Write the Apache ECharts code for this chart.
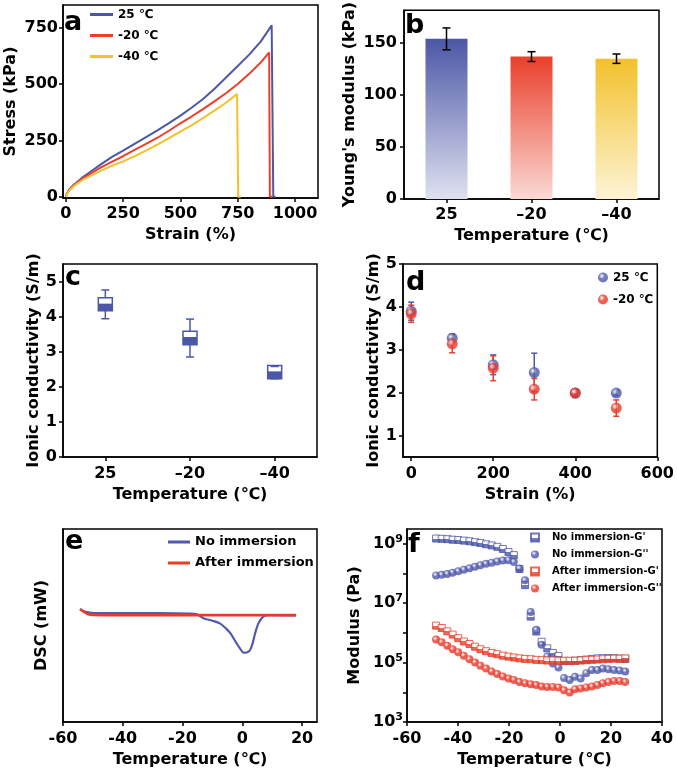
<!DOCTYPE html>
<html>
<head>
<meta charset="utf-8">
<script src="https://cdn.jsdelivr.net/npm/echarts@6/dist/echarts.min.js"></script>
<style>
  html, body { margin: 0; padding: 0; background: #fff; }
  #chart { width: 677px; height: 771px; }
</style>
</head>
<body>
<div id="chart"></div>
<script>
var FONT = '"DejaVu Sans", "Noto Sans CJK SC", sans-serif';
var BLUE = '#4c57a8', RED = '#e9402b', YELLOW = '#f4c12c';

// a - stress / strain
var strain25 = [0, 5, 10, 20, 30, 40, 50, 75, 100, 150, 200, 250, 300, 350, 400, 450, 500, 550, 600, 650, 700, 750, 800, 850, 898, 905, 915];
var stress25 = [0, 14, 24, 38, 49, 58, 66, 88, 106, 142, 176, 205, 235, 265, 295, 327, 360, 396, 435, 480, 530, 580, 630, 688, 760, 0, 0];
var strainM20 = [0, 5, 10, 20, 30, 40, 50, 75, 100, 150, 200, 250, 300, 350, 400, 450, 500, 550, 600, 650, 700, 750, 800, 850, 887, 890, 900];
var stressM20 = [0, 13, 22, 35, 46, 55, 63, 82, 98, 128, 155, 180, 208, 235, 262, 293, 326, 357, 390, 424, 460, 500, 545, 595, 640, 0, 0];
var strainM40 = [0, 5, 10, 20, 30, 40, 50, 75, 100, 150, 200, 250, 300, 350, 400, 450, 500, 550, 600, 650, 700, 747, 752, 763];
var stressM40 = [0, 12, 21, 33, 43, 52, 59, 76, 89, 114, 137, 157, 180, 205, 232, 260, 289, 318, 350, 383, 418, 455, 0, 0];

// b - Young's modulus
var tempCats = ['25', '\u201320', '\u201340'];
var youngVal = [153.5, 136.5, 134.5];
var youngErr = [10.5, 4.7, 4.5];
var barTop = ['#4c57a6', '#e9402b', '#f3c12c'];
var barBottom = ['#dfe1f0', '#fbd9d4', '#fdf4d6'];

// c - box plot of ionic conductivity
var boxMin = [3.94, 2.85, 2.23];
var boxQ1 = [4.17, 3.20, 2.23];
var boxMid = [4.37, 3.42, 2.44];
var boxQ3 = [4.54, 3.58, 2.61];
var boxMax = [4.76, 3.93, 2.58];

// d - conductivity vs strain
var dStrain = [0, 100, 200, 300, 400, 500];
var d25 = [3.90, 3.27, 2.65, 2.47, 1.99, 1.99];
var d25Err = [0.21, 0.10, 0.23, 0.45, 0.10, 0.06];
var dM20 = [3.84, 3.14, 2.57, 2.08, 1.99, 1.64];
var dM20Err = [0.20, 0.21, 0.29, 0.25, 0.08, 0.19];

// e - DSC
var eTempNo = [-54.3, -53, -51.5, -50, -30, -18, -15.2, -13, -10, -7.5, -5.5, -4, -2, -0.5, 0.4, 1.5, 2.6, 3.5, 4.3, 5.4, 7, 8.7, 18];
var eDscNo = [5.85, 5.74, 5.68, 5.65, 5.64, 5.62, 5.58, 5.38, 5.25, 5.11, 4.85, 4.60, 4.10, 3.75, 3.59, 3.60, 3.73, 4.10, 4.60, 5.11, 5.46, 5.54, 5.52];
var eTempAfter = [-54.3, -53, -51.5, -50, -40, 0, 18];
var eDscAfter = [5.85, 5.70, 5.58, 5.55, 5.54, 5.54, 5.54];

// f - modulus vs temperature
var fTemp = [-48.6, -46.4, -44.2, -42.1, -39.9, -37.7, -35.5, -33.3, -31.2, -29.0, -26.8, -24.6, -22.4, -20.2, -18.1, -15.9, -13.7, -11.5,
  -9.3, -7.2, -5.0, -2.8, -0.6, 1.6, 3.8, 5.9, 8.1, 10.3, 12.5, 14.7, 16.8, 19.0, 21.2, 23.4, 25.6];
var fNoGp = [1.48e9, 1.45e9, 1.41e9, 1.35e9, 1.32e9, 1.26e9, 1.2e9, 1.12e9, 1.05e9, 9.5e8, 8.7e8, 7.8e8, 6.6e8, 5.2e8, 4.1e8, 1.4e8, 4e7, 3.5e6,
  1.1e6, 5e5, 3e5, 2.1e5, 1.66e5, 1.12e5, 1.12e5, 1.15e5, 1.2e5, 1.26e5, 1.32e5, 1.38e5, 1.41e5, 1.41e5, 1.41e5, 1.35e5, 1.32e5];
var fNoGpp = [8.5e7, 8.9e7, 9.5e7, 1.05e8, 1.17e8, 1.32e8, 1.48e8, 1.66e8, 1.86e8, 2.09e8, 2.29e8, 2.5e8, 2.7e8, 2.75e8, 2.4e8, 1.45e8, 5.8e7, 5e6,
  1.26e6, 4e5, 1.6e5, 9.3e4, 6.8e4, 3.0e4, 2.6e4, 3.3e4, 2.9e4, 4.4e4, 5.6e4, 5.6e4, 6.3e4, 5.9e4, 5.6e4, 5.4e4, 5.0e4];
var fAfGp = [1.74e6, 1.45e6, 1.12e6, 8.7e5, 6.6e5, 5.1e5, 4.2e5, 3.4e5, 2.8e5, 2.4e5, 2.1e5, 1.9e5, 1.7e5, 1.58e5, 1.48e5, 1.38e5, 1.32e5, 1.29e5,
  1.23e5, 1.2e5, 1.17e5, 1.17e5, 1.15e5, 1.15e5, 1.15e5, 1.15e5, 1.17e5, 1.2e5, 1.23e5, 1.26e5, 1.29e5, 1.32e5, 1.35e5, 1.35e5, 1.38e5];
var fAfGpp = [5.9e5, 4.8e5, 3.7e5, 2.8e5, 2.2e5, 1.7e5, 1.29e5, 1.0e5, 7.8e4, 6.3e4, 5.0e4, 4.1e4, 3.4e4, 2.9e4, 2.6e4, 2.2e4, 2.0e4, 1.86e4,
  1.74e4, 1.55e4, 1.51e4, 1.51e4, 1.45e4, 1.17e4, 9.8e3, 1.26e4, 1.35e4, 1.45e4, 1.55e4, 1.74e4, 2.0e4, 2.2e4, 2.4e4, 2.4e4, 2.2e4];

function zip(xs, ys) {
  return xs.map(function (x, i) { return [x, ys[i]]; });
}

function plain(v) { return String(v); }

function mkAxis(o) {
  return {
    type: o.type || 'value',
    gridIndex: o.grid,
    min: o.min, max: o.max, data: o.data,
    name: o.name, nameLocation: 'middle', nameGap: o.nameGap,
    nameTextStyle: { color: '#000', fontSize: 16, fontWeight: 'bold', fontFamily: FONT },
    axisLine: { show: true, onZero: false, lineStyle: { color: '#000', width: 1.5 } },
    axisTick: { show: o.ticks !== false, length: 4, alignWithLabel: true, customValues: o.ticksAt,
      lineStyle: { color: '#000', width: 1.5 } },
    axisLabel: { show: o.labels !== false, color: '#000', fontSize: 16, fontWeight: 'bold', fontFamily: FONT,
      margin: o.margin || 6, customValues: o.labelsAt, formatter: o.formatter || (o.type ? undefined : plain), rich: o.rich },
    splitLine: { show: false }
  };
}

function grid(l, t, w, h) {
  return { left: l, top: t, width: w, height: h, show: true, borderColor: '#000', borderWidth: 1.5 };
}

function ln(x1, y1, x2, y2, color) {
  return { type: 'line', shape: { x1: x1, y1: y1, x2: x2, y2: y2 }, style: { stroke: color, lineWidth: 1.5 } };
}

function errorBars(color, cap) {
  return function (params, api) {
    var x = api.value(0), v = api.value(1), e = api.value(2);
    var t = api.coord([x, v + e]), b = api.coord([x, v - e]);
    return { type: 'group', children: [
      ln(t[0], t[1], b[0], b[1], color),
      ln(t[0] - cap, t[1], t[0] + cap, t[1], color),
      ln(b[0] - cap, b[1], b[0] + cap, b[1], color)
    ] };
  };
}

function sphere(c) {
  return { type: 'radial', x: 0.38, y: 0.35, r: 0.65,
    colorStops: [{ offset: 0, color: '#ffffff' }, { offset: 0.45, color: c }, { offset: 1, color: c }] };
}

function halfSquare(c) {
  return { type: 'linear', x: 0, y: 0, x2: 0, y2: 1,
    colorStops: [{ offset: 0, color: '#fff' }, { offset: 0.5, color: '#fff' }, { offset: 0.5, color: c }, { offset: 1, color: c }] };
}

var legendText = function (size, pad) {
  return { color: '#000', fontSize: size, fontWeight: 'bold', fontFamily: FONT, lineHeight: size + 1, padding: [0, 0, 0, pad || 0] };
};

var chart = echarts.init(document.getElementById('chart'));

var option = {
  animation: false,
  backgroundColor: '#fff',
  grid: [
    grid(63, 5, 255, 193),
    grid(404, 5, 255, 194),
    grid(63, 264, 254, 193),
    grid(403, 264, 255, 193),
    grid(63, 529, 254, 193),
    grid(407, 529, 255, 193)
  ],
  xAxis: [
    mkAxis({ grid: 0, min: -12, max: 1100, name: 'Strain (%)', nameGap: 29, margin: 8,
      ticksAt: [0, 250, 500, 750, 1000], labelsAt: [0, 250, 500, 750, 1000] }),
    mkAxis({ grid: 1, type: 'category', data: tempCats, name: 'Temperature (\u2103)', nameGap: 29, margin: 8 }),
    mkAxis({ grid: 2, type: 'category', data: tempCats, name: 'Temperature (\u2103)', nameGap: 30, margin: 9 }),
    mkAxis({ grid: 3, min: -20, max: 600, name: 'Strain (%)', nameGap: 30, margin: 9,
      ticksAt: [0, 200, 400, 600], labelsAt: [0, 200, 400, 600] }),
    mkAxis({ grid: 4, min: -60, max: 25, name: 'Temperature (\u2103)', nameGap: 30, margin: 9,
      ticksAt: [-60, -40, -20, 0, 20], labelsAt: [-60, -40, -20, 0, 20] }),
    mkAxis({ grid: 5, min: -60, max: 40, name: 'Temperature (\u2103)', nameGap: 30, margin: 9,
      ticksAt: [-60, -40, -20, 0, 20, 40], labelsAt: [-60, -40, -20, 0, 20, 40] })
  ],
  yAxis: [
    mkAxis({ grid: 0, min: -5, max: 850, name: 'Stress (kPa)', nameGap: 44, margin: 5,
      ticksAt: [0, 250, 500, 750], labelsAt: [0, 250, 500, 750] }),
    mkAxis({ grid: 1, min: 0, max: 181, name: "Young's modulus (kPa)", nameGap: 46, margin: 7,
      ticksAt: [0, 50, 100, 150], labelsAt: [0, 50, 100, 150] }),
    mkAxis({ grid: 2, min: 0, max: 5.5, name: 'Ionic conductivity (S/m)', nameGap: 21, margin: 6,
      ticksAt: [0, 1, 2, 3, 4, 5], labelsAt: [0, 1, 2, 3, 4, 5] }),
    mkAxis({ grid: 3, min: 0.5, max: 5, name: 'Ionic conductivity (S/m)', nameGap: 20, margin: 6,
      ticksAt: [1, 2, 3, 4, 5], labelsAt: [1, 2, 3, 4, 5] }),
    mkAxis({ grid: 4, min: 0, max: 10, name: 'DSC (mW)', nameGap: 13, ticks: false, labels: false }),
    mkAxis({ grid: 5, type: 'log', min: 1000, max: 3.1e9, name: 'Modulus (Pa)', nameGap: 44, margin: 4,
      ticksAt: [1e3, 1e4, 1e5, 1e6, 1e7, 1e8, 1e9], labelsAt: [1e3, 1e5, 1e7, 1e9],
      formatter: function (v) { return '{b|10}{s|' + Math.round(Math.log10(v)) + '}'; },
      rich: {
        b: { fontSize: 16, fontWeight: 'bold', fontFamily: FONT, color: '#000', lineHeight: 20 },
        s: { fontSize: 11, fontWeight: 'bold', fontFamily: FONT, color: '#000', verticalAlign: 'top', lineHeight: 12 }
      } })
  ],
  legend: [
    { left: 90, top: 8, padding: 0, orient: 'vertical', itemWidth: 23, itemHeight: 3, itemGap: 8, icon: 'rect', selectedMode: false,
      data: ['25 \u2103', '-20 \u2103', '-40 \u2103'], textStyle: legendText(12) },
    { left: 598, top: 271, padding: 0, orient: 'vertical', itemWidth: 10, itemHeight: 10, itemGap: 9, selectedMode: false,
      data: ['25 \u2103\u200b', '-20 \u2103\u200b'], textStyle: legendText(12) },
    { left: 168, top: 535, padding: 0, orient: 'vertical', itemWidth: 22, itemHeight: 3, itemGap: 7, icon: 'rect', selectedMode: false,
      data: ['No immersion', 'After immersion'], textStyle: legendText(13) },
    { left: 530, top: 532, padding: 0, orient: 'vertical', itemWidth: 8, itemHeight: 8, itemGap: 6, selectedMode: false,
      data: ["No immersion-G'", "No immersion-G''", "After immersion-G'", "After immersion-G''"], textStyle: legendText(10, 8) }
  ],
  graphic: [
    ['a', 64, 36], ['b', 405, 39], ['c', 65, 291], ['d', 406, 296], ['e', 65, 555], ['f', 408, 558]
  ].map(function (p) {
    return { type: 'text', x: p[1], y: p[2], z: 100,
      style: { text: p[0], fill: '#000', font: 'bold 27px ' + FONT, verticalAlign: 'bottom' } };
  }),
  series: [
    // a
    { type: 'line', name: '25 \u2103', xAxisIndex: 0, yAxisIndex: 0, data: zip(strain25, stress25), showSymbol: false,
      lineStyle: { width: 2, color: BLUE }, itemStyle: { color: BLUE } },
    { type: 'line', name: '-20 \u2103', xAxisIndex: 0, yAxisIndex: 0, data: zip(strainM20, stressM20), showSymbol: false,
      lineStyle: { width: 2, color: RED }, itemStyle: { color: RED } },
    { type: 'line', name: '-40 \u2103', xAxisIndex: 0, yAxisIndex: 0, data: zip(strainM40, stressM40), showSymbol: false,
      lineStyle: { width: 2, color: YELLOW }, itemStyle: { color: YELLOW } },
    // b
    { type: 'bar', xAxisIndex: 1, yAxisIndex: 1, barWidth: 42,
      data: youngVal.map(function (v, i) {
        return { value: v, itemStyle: { color: { type: 'linear', x: 0, y: 0, x2: 0, y2: 1,
          colorStops: [{ offset: 0, color: barTop[i] }, { offset: 1, color: barBottom[i] }] } } };
      }) },
    { type: 'custom', xAxisIndex: 1, yAxisIndex: 1, encode: { x: 0, y: 1 }, z: 5,
      renderItem: errorBars('#000', 4),
      data: youngVal.map(function (v, i) { return [i, v, youngErr[i]]; }) },
    // c
    { type: 'custom', xAxisIndex: 2, yAxisIndex: 2, encode: { x: 0, y: [1, 2, 3, 4, 5] },
      renderItem: function (params, api) {
        var i = api.value(0);
        var pMin = api.coord([i, api.value(1)]), pQ1 = api.coord([i, api.value(2)]), pMid = api.coord([i, api.value(3)]);
        var pQ3 = api.coord([i, api.value(4)]), pMax = api.coord([i, api.value(5)]);
        var cx = pMin[0], hw = 7, cw = 4;
        return { type: 'group', children: [
          { type: 'rect', shape: { x: cx - hw, y: pMid[1], width: 2 * hw, height: pQ1[1] - pMid[1] }, style: { fill: BLUE } },
          { type: 'rect', shape: { x: cx - hw, y: pQ3[1], width: 2 * hw, height: pQ1[1] - pQ3[1] },
            style: { fill: 'none', stroke: BLUE, lineWidth: 1.5 } },
          ln(cx, pQ3[1], cx, pMax[1], BLUE),
          ln(cx, pQ1[1], cx, pMin[1], BLUE),
          ln(cx - cw, pMax[1], cx + cw, pMax[1], BLUE),
          ln(cx - cw, pMin[1], cx + cw, pMin[1], BLUE)
        ] };
      },
      data: boxMin.map(function (v, i) { return [i, v, boxQ1[i], boxMid[i], boxQ3[i], boxMax[i]]; }) },
    // d
    { type: 'custom', xAxisIndex: 3, yAxisIndex: 3, encode: { x: 0, y: 1 }, renderItem: errorBars(BLUE, 3),
      data: dStrain.map(function (s, i) { return [s, d25[i], d25Err[i]]; }) },
    { type: 'scatter', name: '25 \u2103\u200b', xAxisIndex: 3, yAxisIndex: 3, symbolSize: 11,
      itemStyle: { color: sphere('#4e58ab') }, data: zip(dStrain, d25) },
    { type: 'custom', xAxisIndex: 3, yAxisIndex: 3, encode: { x: 0, y: 1 }, renderItem: errorBars(RED, 3),
      data: dStrain.map(function (s, i) { return [s, dM20[i], dM20Err[i]]; }) },
    { type: 'scatter', name: '-20 \u2103\u200b', xAxisIndex: 3, yAxisIndex: 3, symbolSize: 11,
      itemStyle: { color: sphere('#e8392a') }, data: zip(dStrain, dM20) },
    // e
    { type: 'line', name: 'No immersion', xAxisIndex: 4, yAxisIndex: 4, data: zip(eTempNo, eDscNo), showSymbol: false,
      smooth: 0.3, lineStyle: { width: 2.2, color: '#5059b0' }, itemStyle: { color: '#5059b0' } },
    { type: 'line', name: 'After immersion', xAxisIndex: 4, yAxisIndex: 4, data: zip(eTempAfter, eDscAfter), showSymbol: false,
      smooth: 0.3, lineStyle: { width: 2.6, color: '#ea3c24' }, itemStyle: { color: '#ea3c24' } },
    // f
    { type: 'scatter', name: "No immersion-G'", xAxisIndex: 5, yAxisIndex: 5, symbol: 'rect', symbolSize: 7,
      itemStyle: { color: halfSquare(BLUE), borderColor: BLUE, borderWidth: 1 }, data: zip(fTemp, fNoGp) },
    { type: 'scatter', name: "No immersion-G''", xAxisIndex: 5, yAxisIndex: 5, symbolSize: 8,
      itemStyle: { color: sphere('#4e58ab') }, data: zip(fTemp, fNoGpp) },
    { type: 'scatter', name: "After immersion-G'", xAxisIndex: 5, yAxisIndex: 5, symbol: 'rect', symbolSize: 7,
      itemStyle: { color: halfSquare(RED), borderColor: RED, borderWidth: 1 }, data: zip(fTemp, fAfGp) },
    { type: 'scatter', name: "After immersion-G''", xAxisIndex: 5, yAxisIndex: 5, symbolSize: 8,
      itemStyle: { color: sphere('#e8392a') }, data: zip(fTemp, fAfGpp) }
  ]
};

chart.setOption(option);
</script>
</body>
</html>
